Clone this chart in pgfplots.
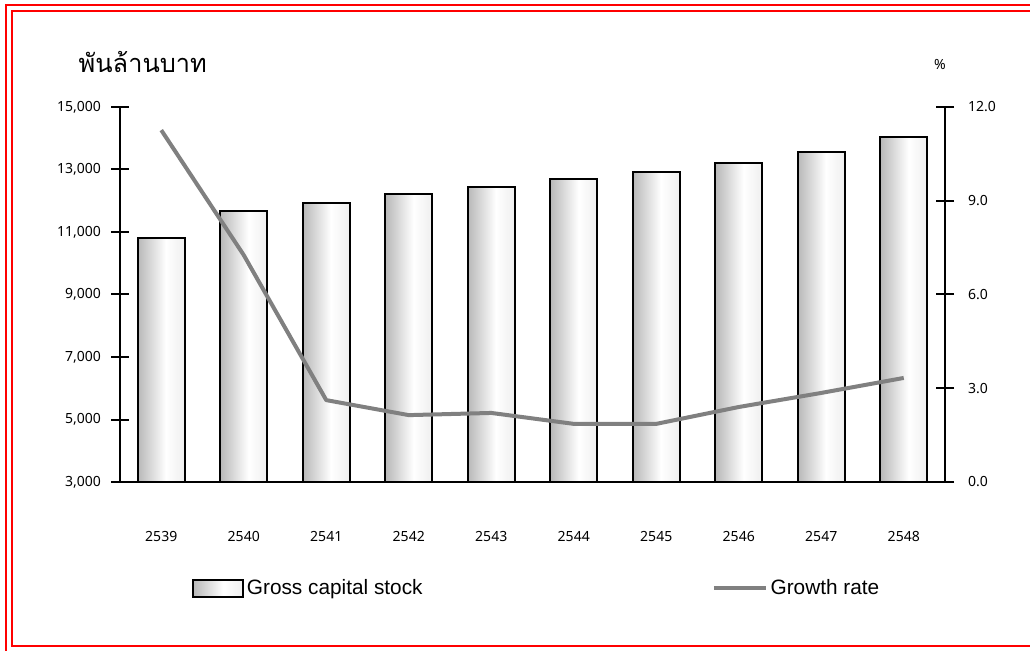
\documentclass[border=0pt]{standalone}
\usepackage{pgfplots}
\pgfplotsset{compat=1.18}
\usepackage{fontspec}
\setmainfont{Liberation Sans}
\newfontfamily\thaifont[Script=Thai]{Loma}
\newfontfamily\tickfont{Noto Sans}
\pgfdeclarehorizontalshading{barshade}{100bp}{color(0bp)=(black!55); color(12bp)=(black!40); color(55bp)=(white); color(80bp)=(black!8); color(100bp)=(black!48)}
\definecolor{linegray}{RGB}{128,128,128}
\begin{document}
\begin{tikzpicture}[x=0.75pt,y=0.75pt]
\pgfplotsset{
  common/.style={
    scale only axis, width=618.75pt, height=281.25pt,
    at={(90pt,126pt)}, anchor=south west,
    xmin=-0.5, xmax=9.5,
    tick align=center, major tick length=13.5pt,
    major tick style={black, line width=1.5pt},
    axis line style={black, line width=1.5pt, -},
    ticklabel style={font=\tickfont\fontsize{10.5}{12}\selectfont},
    /pgf/number format/assume math mode=true,
  },
  barsty/.style={ybar, bar width=0.57, bar shift=0pt, draw=black, line width=1.5pt, shade, shading=barshade},
}
\begin{axis}[common,
  axis y line*=left, axis x line*=bottom,
  ymin=3000, ymax=15000, ytick={3000,5000,...,15000},
  scaled y ticks=false,
  yticklabel style={/pgf/number format/fixed, /pgf/number format/1000 sep={,}, xshift=-4pt},
  xtick={0,...,9},
  xticklabels={2539,2540,2541,2542,2543,2544,2545,2546,2547,2548},
  major x tick style={draw=none},
  xticklabel style={yshift=-27pt},
]
\addplot[barsty] coordinates {(0,10808)};
\addplot[barsty] coordinates {(1,11672)};
\addplot[barsty] coordinates {(2,11928)};
\addplot[barsty] coordinates {(3,12216)};
\addplot[barsty] coordinates {(4,12440)};
\addplot[barsty] coordinates {(5,12700)};
\addplot[barsty] coordinates {(6,12920)};
\addplot[barsty] coordinates {(7,13210)};
\addplot[barsty] coordinates {(8,13560)};
\addplot[barsty] coordinates {(9,14040)};
\end{axis}
\begin{axis}[common,
  axis y line*=right, axis x line=none,
  ymin=0, ymax=12, ytick={0,3,...,12},
  yticklabel style={/pgf/number format/fixed, /pgf/number format/fixed zerofill, /pgf/number format/precision=1, xshift=7pt},
  legend columns=2,
  legend style={draw=none, fill=none, at={(0.0824,-0.283)}, anchor=west,
    font=\fontsize{15.6}{18}\selectfont,
    /tikz/every even column/.append style={column sep=215pt}},
]
\addlegendimage{legend image code/.code={\shadedraw[shading=barshade, draw=black, line width=1.5pt] (0pt,-6.4pt) rectangle (37.5pt,6.4pt);}}
\addlegendentry{Gross capital stock}
\addplot[linegray, line width=3pt, line join=round,
  legend image code/.code={\draw[linegray, line width=3pt] (0pt,0pt) -- (39pt,0pt);}]
coordinates {(0,11.26) (1,7.26) (2,2.62) (3,2.14) (4,2.21) (5,1.86) (6,1.86) (7,2.40) (8,2.85) (9,3.33)};
\addlegendentry{Growth rate}
\end{axis}
\node[anchor=west, font=\thaifont\fontsize{19}{21}\selectfont] at (74,588) {พันล้านบาท};
\node[font=\tickfont\fontsize{10.5}{12}\selectfont] at (940,585) {\%};
\draw[red, line width=1.5pt] (6,-20) -- (6,645) -- (1050,645);
\draw[red, line width=1.5pt] (1050,639) -- (12,639) -- (12,4) -- (1050,4);
\pgfresetboundingbox
\useasboundingbox (0,0) rectangle (1030,650);
\end{tikzpicture}
\end{document}
